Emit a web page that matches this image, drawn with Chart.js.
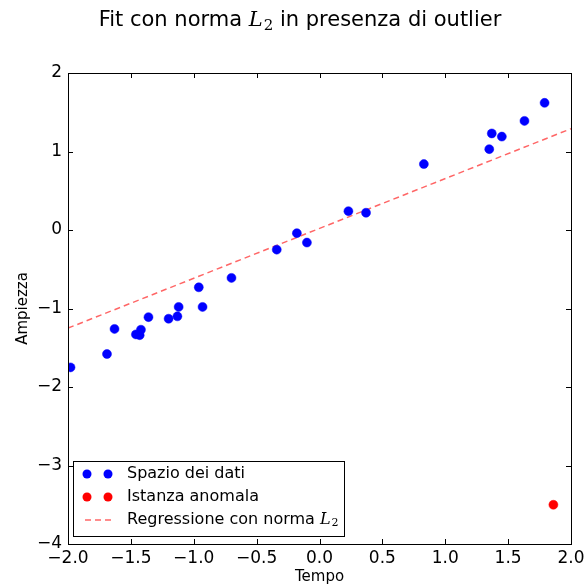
<!DOCTYPE html>
<html>
<head>
<meta charset="utf-8">
<script src="https://cdn.jsdelivr.net/npm/chart.js@4/dist/chart.umd.min.js"></script>
<style>
  html, body { margin: 0; padding: 0; background: #fff; }
  #wrap { width: 585px; height: 586px; }
</style>
</head>
<body>
<div id="wrap"><canvas id="grafico" width="585" height="586"></canvas></div>
<script>
// Dati
const tempoDati = [-1.98, -1.69, -1.63, -1.46, -1.43, -1.42, -1.36, -1.20, -1.13, -1.12,
                   -0.96, -0.93, -0.70, -0.34, -0.18, -0.10, 0.23, 0.37, 0.83, 1.35,
                   1.37, 1.45, 1.63, 1.79];
const ampiezzaDati = [-1.75, -1.58, -1.26, -1.33, -1.34, -1.27, -1.11, -1.13, -1.10, -0.98,
                      -0.73, -0.98, -0.61, -0.25, -0.04, -0.16, 0.24, 0.22, 0.84, 1.03,
                      1.23, 1.19, 1.39, 1.62];
const tempoAnomalo = [1.86];
const ampiezzaAnomala = [-3.50];
const tempoRetta = [-2.0, 2.0];
const ampiezzaRetta = [-1.25, 1.29];
const xTicks = [-2.0, -1.5, -1.0, -0.5, 0.0, 0.5, 1.0, 1.5, 2.0];
const yTicks = [2, 1, 0, -1, -2, -3, -4];

const FONT = "'DejaVu Sans', sans-serif";
const MATH = "'DejaVu Serif', 'Liberation Serif', serif";

function punti(xs, ys) {
    return xs.map((v, i) => ({ x: v, y: ys[i] }));
}

function meno(v) { // segno meno tipografico come matplotlib
    return String(v).replace('-', '\u2212');
}

// scrive testo con "L_2" in corsivo matematico, ritorna la larghezza
function testoMisto(ctx, parti, x, y, size, solo) {
    let cx = x;
    parti.forEach(p => {
        if (p.t === 'L') {
            ctx.font = 'italic ' + size + 'px ' + MATH;
            if (!solo) ctx.fillText('L', cx, y);
            cx += ctx.measureText('L').width + 1;
            ctx.font = Math.round(size * 0.7) + 'px ' + MATH;
            if (!solo) ctx.fillText('2', cx, y + size * 0.22);
            cx += ctx.measureText('2').width;
        } else {
            ctx.font = size + 'px ' + FONT;
            if (!solo) ctx.fillText(p.t, cx, y);
            cx += ctx.measureText(p.t).width;
        }
    });
    return cx - x;
}

const pluginCornice = {
    id: 'cornice',
    afterDraw(chart) {
        const { ctx, chartArea: a, scales: { x, y } } = chart;
        ctx.save();
        ctx.strokeStyle = '#000';
        ctx.lineWidth = 1;
        // tacche interne su tutti e quattro i lati
        ctx.beginPath();
        x.ticks.forEach(t => {
            const px = Math.round(x.getPixelForValue(t.value)) + 0.5;
            ctx.moveTo(px, a.bottom); ctx.lineTo(px, a.bottom - 5);
            ctx.moveTo(px, a.top); ctx.lineTo(px, a.top + 5);
        });
        y.ticks.forEach(t => {
            const py = Math.round(y.getPixelForValue(t.value)) + 0.5;
            ctx.moveTo(a.left, py); ctx.lineTo(a.left + 5, py);
            ctx.moveTo(a.right, py); ctx.lineTo(a.right - 5, py);
        });
        ctx.stroke();
        ctx.strokeRect(Math.round(a.left) + 0.5, Math.round(a.top) + 0.5,
            Math.round(a.right - a.left), Math.round(a.bottom - a.top));

        // titolo
        ctx.fillStyle = '#000';
        ctx.textBaseline = 'middle';
        const parti = [{ t: 'Fit con norma ' }, { t: 'L' }, { t: ' in presenza di outlier' }];
        const w = testoMisto(ctx, parti, 0, 0, 21, true);
        testoMisto(ctx, parti, 300 - w / 2, 21, 21, false);

        // legenda
        const lx = a.left + 5, ly = a.bottom - 83, lw = 271, lh = 75;
        ctx.fillStyle = '#fff';
        ctx.fillRect(lx, ly, lw, lh);
        ctx.strokeStyle = '#000';
        ctx.strokeRect(lx + 0.5, ly + 0.5, lw, lh);
        const voci = [
            { tipo: 'p', col: '#0000ff', parti: [{ t: 'Spazio dei dati' }] },
            { tipo: 'p', col: '#ff0000', parti: [{ t: 'Istanza anomala' }] },
            { tipo: 'l', col: 'rgba(255,0,0,0.6)', parti: [{ t: 'Regressione con norma ' }, { t: 'L' }] }
        ];
        voci.forEach((v, i) => {
            const cy = ly + 13 + i * 23;
            if (v.tipo === 'p') {
                ctx.fillStyle = v.col;
                [lx + 14, lx + 35].forEach(cx => {
                    ctx.beginPath(); ctx.arc(cx, cy, 4.5, 0, Math.PI * 2); ctx.fill();
                });
            } else {
                ctx.strokeStyle = v.col;
                ctx.lineWidth = 1.5;
                ctx.setLineDash([6, 4]);
                ctx.beginPath(); ctx.moveTo(lx + 12, cy); ctx.lineTo(lx + 38, cy); ctx.stroke();
                ctx.setLineDash([]);
            }
            ctx.fillStyle = '#000';
            testoMisto(ctx, v.parti, lx + 54, cy, 16, false);
        });
        ctx.restore();
    }
};

new Chart(document.getElementById('grafico'), {
    type: 'scatter',
    data: {
        datasets: [
            {
                label: 'Spazio dei dati',
                data: punti(tempoDati, ampiezzaDati),
                backgroundColor: '#0000ff',
                borderColor: '#0000ff',
                pointRadius: 4.5,
                borderWidth: 0.5
            },
            {
                label: 'Istanza anomala',
                data: punti(tempoAnomalo, ampiezzaAnomala),
                backgroundColor: '#ff0000',
                borderColor: '#ff0000',
                pointRadius: 4.5,
                borderWidth: 0.5
            },
            {
                label: 'Regressione con norma L2',
                type: 'line',
                data: punti(tempoRetta, ampiezzaRetta),
                borderColor: 'rgba(255,0,0,0.6)',
                borderWidth: 1.5,
                borderDash: [6, 4],
                pointRadius: 0,
                fill: false
            }
        ]
    },
    options: {
        responsive: false,
        animation: false,
        layout: { padding: { top: 73, right: 14, left: 0, bottom: 0 } },
        plugins: {
            legend: { display: false },
            title: { display: false },
            tooltip: { enabled: false }
        },
        scales: {
            x: {
                type: 'linear',
                min: -2, max: 2,
                afterFit: s => { s.height = 42; s.paddingRight = 0; s.paddingLeft = 0; },
                afterBuildTicks: s => { s.ticks = xTicks.map(v => ({ value: v })); },
                grid: { display: false, drawTicks: false },
                border: { display: false },
                ticks: {
                    color: '#000',
                    padding: 4,
                    font: { family: FONT, size: 17 },
                    callback: v => meno(Number(v).toFixed(1))
                },
                title: {
                    display: true,
                    text: 'Tempo',
                    color: '#000',
                    font: { family: FONT, size: 15 },
                    padding: { top: 0, bottom: 0 }
                }
            },
            y: {
                type: 'linear',
                min: -4, max: 2,
                afterFit: s => { s.width = 68; },
                afterBuildTicks: s => { s.ticks = yTicks.map(v => ({ value: v })); },
                grid: { display: false, drawTicks: false },
                border: { display: false },
                ticks: {
                    color: '#000',
                    padding: 6,
                    font: { family: FONT, size: 17 },
                    callback: v => meno(v)
                },
                title: {
                    display: true,
                    text: 'Ampiezza',
                    color: '#000',
                    font: { family: FONT, size: 15 },
                    padding: { top: 14, bottom: 0 }
                }
            }
        }
    },
    plugins: [pluginCornice]
});
</script>
</body>
</html>
